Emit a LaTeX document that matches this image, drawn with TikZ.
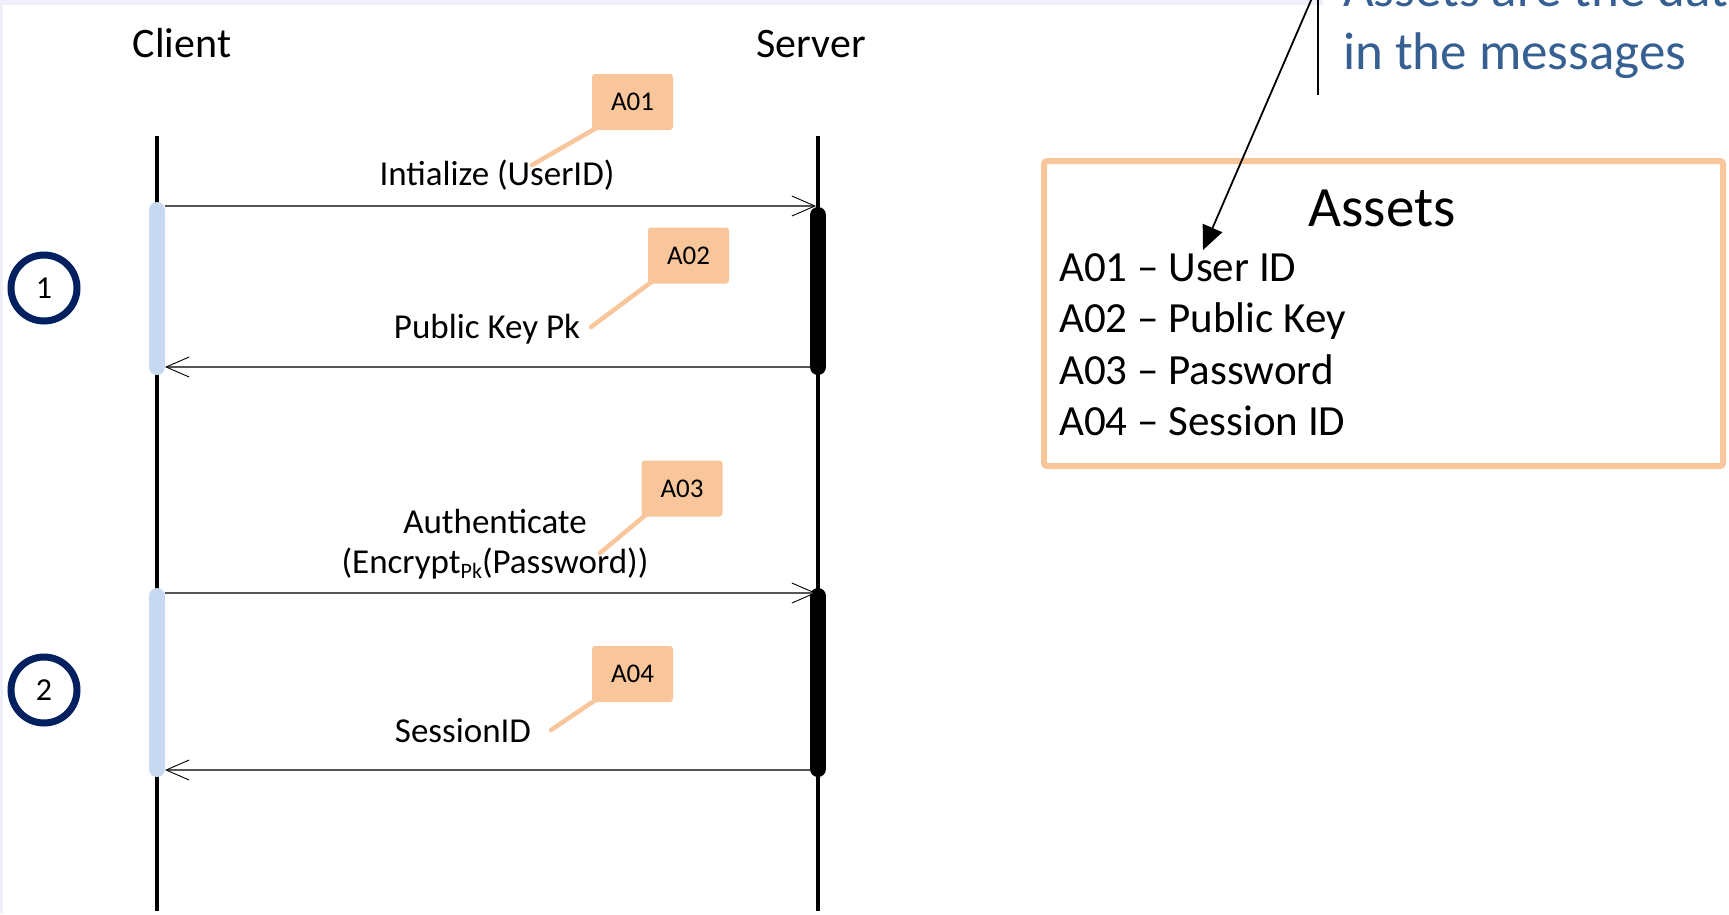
\documentclass[tikz,border=0pt]{standalone}
\usepackage{fontspec}
\setmainfont{Carlito}
\usetikzlibrary{arrows.meta}
\definecolor{peach}{RGB}{249,197,155}
\definecolor{barblue}{RGB}{198,217,241}
\definecolor{navy}{RGB}{0,32,96}
\definecolor{noteblue}{RGB}{55,96,146}
\definecolor{slidebg}{RGB}{239,239,250}
\definecolor{msggray}{RGB}{85,85,85}
\newcommand\myfs[1]{\fontsize{#1}{#1}\selectfont}
\begin{document}
\begin{tikzpicture}[x=1pt,y=-1pt,
  lifeline/.style={line width=4.5pt},
  clientbar/.style={draw=barblue, line width=16pt, line cap=round},
  serverbar/.style={draw=black, line width=16pt, line cap=round},
  msg/.style={draw=msggray, line width=1.3pt,
    -{Straight Barb[length=23pt,width=20pt,line width=0.9pt,color=black]}},
  msglabel/.style={anchor=base, font=\myfs{35}, inner sep=0pt},
  actor/.style={anchor=base, font=\myfs{42}, inner sep=0pt},
  tag/.style={fill=peach, rounded corners=3pt, minimum width=81pt,
    minimum height=56pt, font=\myfs{27}, inner sep=0pt},
  tagline/.style={draw=peach, line width=4.5pt, line cap=round},
  stepmark/.style={circle, draw=navy, line width=7pt, minimum size=66pt,
    inner sep=0pt, font=\myfs{32}},
  assetline/.style={anchor=base west, font=\myfs{43}, inner sep=0pt},
  notetext/.style={anchor=base west, font=\myfs{53}, text=noteblue, inner sep=0pt}
]
\useasboundingbox (0,0) rectangle (1729,914);
\clip (0,0) rectangle (1729,914);

% slide edge
\fill[slidebg] (0,0) rectangle (1323,5);
\fill[slidebg] (0,0) rectangle (3,914);

% actors
\node[actor] (client) at (182,57) {Client};
\node[actor] (server) at (811,57) {Server};

% lifelines
\coordinate (ctop) at (157,136);
\coordinate (cbot) at (157,911);
\coordinate (stop) at (818,136);
\coordinate (sbot) at (818,911);
\draw[lifeline] (ctop) -- (cbot);
\draw[lifeline] (stop) -- (sbot);

% activation bars
\coordinate (ca1) at (157,210); \coordinate (cb1) at (157,367);
\coordinate (sa1) at (818,215); \coordinate (sb1) at (818,367);
\coordinate (ca2) at (157,596); \coordinate (cb2) at (157,769);
\coordinate (sa2) at (818,596); \coordinate (sb2) at (818,769);
\draw[clientbar] (ca1) -- (cb1);
\draw[serverbar] (sa1) -- (sb1);
\draw[clientbar] (ca2) -- (cb2);
\draw[serverbar] (sa2) -- (sb2);

% messages
\coordinate (m1a) at (165,206); \coordinate (m1b) at (816,206);
\coordinate (m2a) at (810,367); \coordinate (m2b) at (165,367);
\coordinate (m3a) at (165,593); \coordinate (m3b) at (816,593);
\coordinate (m4a) at (810,770); \coordinate (m4b) at (165,770);
\draw[msg] (m1a) -- (m1b);
\draw[msg] (m2a) -- (m2b);
\draw[msg] (m3a) -- (m3b);
\draw[msg] (m4a) -- (m4b);

\node[msglabel] (l1) at (497,185) {Intialize (UserID)};
\node[msglabel] (l2) at (487,338) {Public Key Pk};
\node[msglabel] (l3a) at (495,533) {Authenticate};
\node[msglabel] (l3b) at (495,573) {(Encrypt\raisebox{-5pt}{\myfs{22}Pk}(Password))};
\node[msglabel] (l4) at (463,742) {SessionID};

% asset tags
\coordinate (t1root) at (598,127); \coordinate (t1tip) at (532,165);
\draw[tagline] (t1root) -- (t1tip);
\node[tag] (t1) at (632.5,102) {A01};
\coordinate (t2root) at (654,280); \coordinate (t2tip) at (591,327);
\draw[tagline] (t2root) -- (t2tip);
\node[tag] (t2) at (688.5,255.5) {A02};
\coordinate (t3root) at (648,513); \coordinate (t3tip) at (600,553);
\draw[tagline] (t3root) -- (t3tip);
\node[tag] (t3) at (682,488.5) {A03};
\coordinate (t4root) at (597,699); \coordinate (t4tip) at (551,730);
\draw[tagline] (t4root) -- (t4tip);
\node[tag] (t4) at (632.5,674) {A04};

% phases
\node[stepmark] (p1) at (44,288) {1};
\node[stepmark] (p2) at (44,690) {2};

% asset list
\node[draw=peach, line width=6pt, rounded corners=3pt, minimum width=679pt,
  minimum height=305pt, anchor=north west, inner sep=0pt, outer sep=0pt]
  (assets) at (1044,161) {};
\node[anchor=base, font=\myfs{57}, inner sep=0pt] (atitle) at (1382,226) {Assets};
\node[assetline] (a1) at (1059,281) {A01 – User ID};
\node[assetline] (a2) at (1059,332) {A02 – Public Key};
\node[assetline] (a3) at (1059,384) {A03 – Password};
\node[assetline] (a4) at (1059,435) {A04 – Session ID};

% note
\node[notetext] (n1) at (1343,6) {Assets are the data};
\node[notetext] (n2) at (1343,69) {in the messages};
\coordinate (ntop) at (1318,0);
\coordinate (nbot) at (1318,95);
\draw[line width=2pt] (ntop) -- (nbot);
\coordinate (nstart) at (1312,-2);
\coordinate (ntip) at (1203,250);
\draw[line width=1.8pt, -{Triangle[length=24pt,width=21pt]}] (nstart) -- (ntip);
\end{tikzpicture}
\end{document}
